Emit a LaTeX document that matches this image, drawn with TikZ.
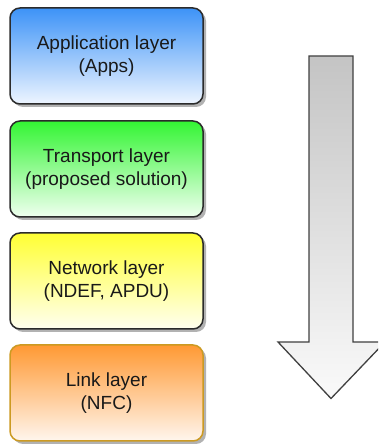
\documentclass[tikz,border=0pt]{standalone}
\usepackage{fontspec}
\setmainfont{Liberation Sans}
\usetikzlibrary{shadows}
\definecolor{blueT}{HTML}{3D93F7}
\definecolor{blueB}{HTML}{EEF5FF}
\definecolor{greenT}{HTML}{33F533}
\definecolor{greenB}{HTML}{F0FFF0}
\definecolor{yellowT}{HTML}{FFFF33}
\definecolor{yellowB}{HTML}{FFFFF0}
\definecolor{orangeT}{HTML}{FF9933}
\definecolor{orangeB}{HTML}{FFF6EE}
\definecolor{orangeD}{HTML}{CC9A22}
\definecolor{edge}{HTML}{2B2B2B}
\definecolor{arrowT}{HTML}{C4C4C4}
\definecolor{arrowB}{HTML}{FAFAFA}
\tikzset{
  layerbox/.style={draw=edge, line width=1.5pt, rounded corners=10pt,
    minimum width=193pt, minimum height=96pt, align=center,
    text=black!90, font=\fontsize{19}{23}\selectfont,
    drop shadow={shadow xshift=3pt, shadow yshift=-3pt, fill=black!30, opacity=1}},
  bigarrow/.style={draw=black!75, line width=1.3pt, top color=arrowT, bottom color=arrowB}
}
\begin{document}
\begin{tikzpicture}[x=1pt,y=1pt]
\useasboundingbox (0,0) rectangle (378,445);
\clip (0,0) rectangle (378,445);
\node[layerbox, top color=blueT, bottom color=blueB] (app) at (106.5,389) {Application layer\\(Apps)};
\node[layerbox, top color=greenT, bottom color=greenB] (trans) at (106.5,276) {Transport layer\\(proposed solution)};
\node[layerbox, top color=yellowT, bottom color=yellowB] (net) at (106.5,164) {Network layer\\(NDEF, APDU)};
\node[layerbox, draw=orangeD, top color=orangeT, bottom color=orangeB] (link) at (106.5,52) {Link layer\\(NFC)};
\draw[bigarrow] (309,389) -- (353,389) -- (353,103) -- (385,103) -- (331,46.5) -- (278,103) -- (309,103) -- cycle;
\end{tikzpicture}
\end{document}
